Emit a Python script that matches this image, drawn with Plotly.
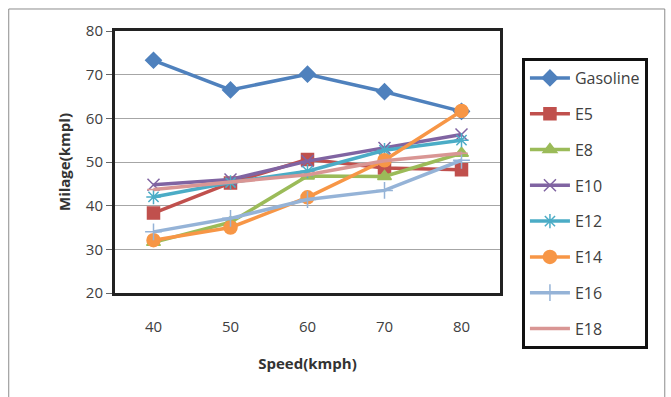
import plotly.graph_objects as go

speeds = ["40", "50", "60", "70", "80"]

gasoline = [73.3, 66.5, 70.1, 66.1, 61.6]
e5 = [38.3, 45.2, 50.6, 48.6, 48.2]
e8 = [31.6, 36.2, 46.8, 46.7, 52.0]
e10 = [44.8, 46.0, 50.2, 53.2, 56.3]
e12 = [42.0, 45.3, 47.9, 52.7, 55.0]
e14 = [32.1, 35.0, 41.9, 50.4, 61.7]
e16 = [34.0, 37.1, 41.4, 43.5, 50.4]
e18 = [43.7, 45.4, 47.1, 50.3, 52.0]

series = [
    ("Gasoline", gasoline, "#4F81BD", "diamond", 12),
    ("E5", e5, "#C0504D", "square", 12),
    ("E8", e8, "#9BBB59", "triangle-up", 12),
    ("E10", e10, "#8064A2", "x-thin-open", 12),
    ("E12", e12, "#4BACC6", "asterisk-open", 12),
    ("E14", e14, "#F79646", "circle", 13),
    ("E16", e16, "#95B3D7", "cross-thin-open", 12),
    ("E18", e18, "#D99694", "line-ew-open", 9),
]

fig = go.Figure()
for name, vals, color, sym, size in series:
    fig.add_trace(go.Scatter(
        x=speeds, y=vals, name=name, mode="lines+markers",
        legendgroup=name,
        line=dict(color=color, width=3.5),
        marker=dict(symbol=sym, size=size, color=color,
                    line=dict(color=color, width=1.5)),
    ))

font_family = "Open Sans, Liberation Sans, sans-serif"

fig.update_layout(
    width=671, height=397,
    margin=dict(l=115, r=171, t=31, b=104),
    paper_bgcolor="white", plot_bgcolor="white",
    font=dict(family=font_family, size=15, color="#404040"),
    showlegend=True,
    legend=dict(
        x=1.057, y=0.897, xanchor="left", yanchor="top",
        bordercolor="#111111", borderwidth=3,
        bgcolor="white",
        font=dict(family=font_family, size=16, color="#404040"),
        tracegroupgap=12,
        itemwidth=40,
        maxheight=400,
    ),
    xaxis=dict(
        type="category", range=[-0.5, 4.5],
        showgrid=False,
        showline=True, linecolor="#222222", linewidth=3, mirror=True,
        ticks="", ticklabelstandoff=18,
        title=dict(text="<b>Speed(kmph)</b>", font=dict(size=15, color="#333333"),
                   standoff=24),
    ),
    yaxis=dict(
        range=[20, 80], dtick=10,
        showgrid=True, gridcolor="#A6A6A6", gridwidth=1,
        showline=True, linecolor="#222222", linewidth=3, mirror=True,
        ticks="outside", ticklen=6, tickcolor="#666666",
        zeroline=False,
        title=dict(text="<b>Milage(kmpl)</b>", font=dict(size=15, color="#333333"),
                   standoff=12),
    ),
    shapes=[
        dict(type="rect", xref="paper", yref="paper",
             x0=-0.276, x1=1.428, y0=-0.45, y1=1.084,
             line=dict(color="#8C8C8C", width=1), layer="below"),
    ],
)

fig.write_html("out.html")
